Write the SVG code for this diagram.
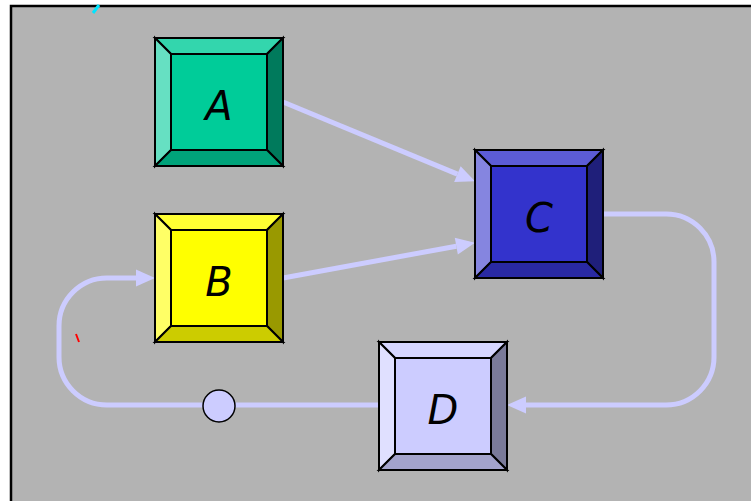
<svg xmlns="http://www.w3.org/2000/svg" width="751" height="501" viewBox="0 0 751 501">
  <style>
    .bevel polygon, .bevel rect { stroke: #000; stroke-width: 2; stroke-linejoin: miter; }
    .label { font-family: "DejaVu Sans", "Liberation Sans", sans-serif; font-style: italic; font-size: 40px; fill: #000; text-anchor: middle; }
    .wire { fill: none; stroke: #ccccff; stroke-width: 5; }
  </style>
  <defs>
    <marker id="head" markerUnits="userSpaceOnUse" markerWidth="20" markerHeight="18" refX="0" refY="8.5" orient="auto" overflow="visible">
      <path d="M0,0 L19,8.5 L0,17 z" fill="#ccccff"/>
    </marker>
  </defs>

  <!-- canvas -->
  <rect x="0" y="0" width="751" height="501" fill="#ffffff"/>
  <rect x="11" y="6" width="760" height="520" fill="#b3b3b3" stroke="#000" stroke-width="2.5"/>
  <line x1="93" y1="13" x2="99" y2="5" stroke="#00e5ff" stroke-width="3"/>
  <line x1="76" y1="334" x2="79" y2="342" stroke="#ff0000" stroke-width="2"/>

  <!-- connectors -->
  <g id="connectors">
    <path class="wire" d="M283,102 L457.4,174.1" marker-end="url(#head)"/>
    <path class="wire" d="M283,278 L456.3,246.2" marker-end="url(#head)"/>
    <path class="wire" d="M603,214 L666,214 A48,48 0 0 1 714,262 L714,357 A48,48 0 0 1 666,405 L526,405" marker-end="url(#head)"/>
    <path class="wire" d="M379,405 L107,405 A48,48 0 0 1 59,357 L59,326 A48,48 0 0 1 107,278 L136,278" marker-end="url(#head)"/>
    <circle cx="219" cy="406" r="16" fill="#ccccff" stroke="#000" stroke-width="1.5"/>
  </g>

  <!-- A -->
  <g id="node-A" class="bevel" transform="translate(155,38)">
    <rect x="0" y="0" width="128" height="128" fill="#00cc99"/>
    <polygon points="0,0 128,0 112,16 16,16" fill="#33d6ad"/>
    <polygon points="0,0 16,16 16,112 0,128" fill="#66e0c2"/>
    <polygon points="128,0 128,128 112,112 112,16" fill="#007a5c"/>
    <polygon points="0,128 16,112 112,112 128,128" fill="#00a37a"/>
    <rect x="16" y="16" width="96" height="96" fill="#00cc99"/>
    <text class="label" x="64" y="82">A</text>
  </g>

  <!-- B -->
  <g id="node-B" class="bevel" transform="translate(155,214)">
    <rect x="0" y="0" width="128" height="128" fill="#ffff00"/>
    <polygon points="0,0 128,0 112,16 16,16" fill="#ffff33"/>
    <polygon points="0,0 16,16 16,112 0,128" fill="#ffff66"/>
    <polygon points="128,0 128,128 112,112 112,16" fill="#999900"/>
    <polygon points="0,128 16,112 112,112 128,128" fill="#cccc00"/>
    <rect x="16" y="16" width="96" height="96" fill="#ffff00"/>
    <text class="label" x="64" y="82">B</text>
  </g>

  <!-- C -->
  <g id="node-C" class="bevel" transform="translate(475,150)">
    <rect x="0" y="0" width="128" height="128" fill="#3333cc"/>
    <polygon points="0,0 128,0 112,16 16,16" fill="#5c5cd6"/>
    <polygon points="0,0 16,16 16,112 0,128" fill="#8585e0"/>
    <polygon points="128,0 128,128 112,112 112,16" fill="#1f1f7a"/>
    <polygon points="0,128 16,112 112,112 128,128" fill="#2929a3"/>
    <rect x="16" y="16" width="96" height="96" fill="#3333cc"/>
    <text class="label" x="64" y="82">C</text>
  </g>

  <!-- D -->
  <g id="node-D" class="bevel" transform="translate(379,342)">
    <rect x="0" y="0" width="128" height="128" fill="#ccccff"/>
    <polygon points="0,0 128,0 112,16 16,16" fill="#d6d6ff"/>
    <polygon points="0,0 16,16 16,112 0,128" fill="#e0e0ff"/>
    <polygon points="128,0 128,128 112,112 112,16" fill="#7a7a99"/>
    <polygon points="0,128 16,112 112,112 128,128" fill="#a3a3cc"/>
    <rect x="16" y="16" width="96" height="96" fill="#ccccff"/>
    <text class="label" x="64" y="82">D</text>
  </g>
</svg>
